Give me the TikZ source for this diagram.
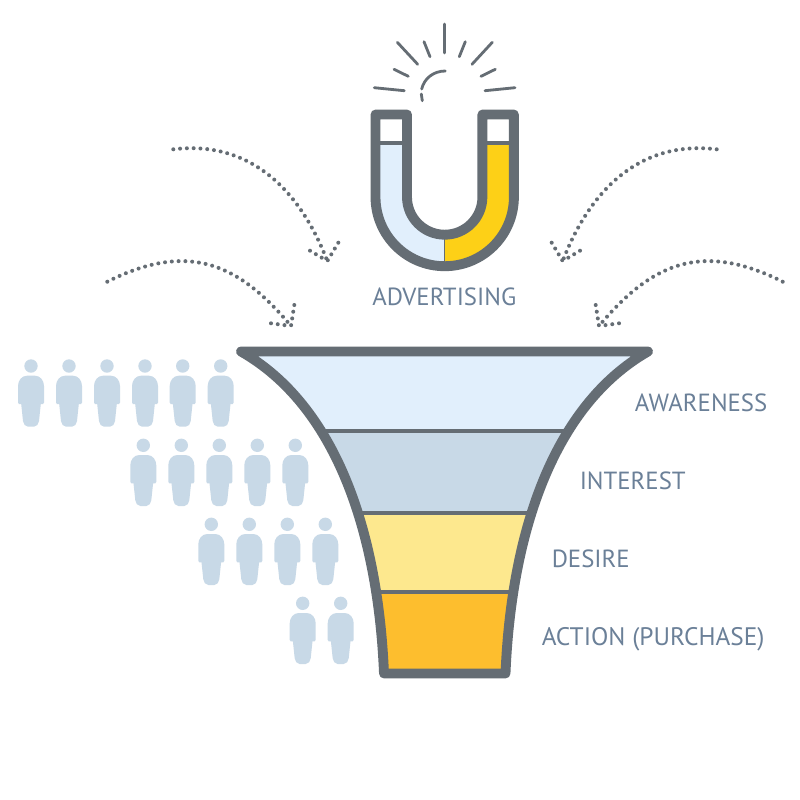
\documentclass[tikz,border=0pt]{standalone}
\usepackage{fontspec}
\setmainfont{PT Sans}
\definecolor{steel}{HTML}{656D74}
\definecolor{labelc}{HTML}{6B8098}
\definecolor{bandA}{HTML}{E1EFFC}
\definecolor{bandB}{HTML}{C8D9E7}
\definecolor{bandC}{HTML}{FDE88E}
\definecolor{bandD}{HTML}{FDBE2E}
\definecolor{magY}{HTML}{FDD017}
\tikzset{
  px/.style={x=0.75pt,y=-0.75pt},
  outline/.style={draw=steel,line width=7.4pt,line join=round,line cap=round},
  divider/.style={draw=steel,line width=2.4pt},
  ray/.style={draw=steel,line width=2.1pt,line cap=round},
  dotline/.style={draw=steel,line width=3pt,line cap=round,dash pattern=on 0pt off 5.1pt},
  funnellabel/.style={text=labelc,font=\fontsize{18.6pt}{20pt}\selectfont,inner sep=0pt,anchor=base west},
  person/.pic={
    \fill[bandB] (0,0) circle (6.7);
    \fill[bandB] (-4,9.7) to[out=180,in=90] (-13,20) -- (-13,36.5)
      to[out=-90,in=180] (-12,38) -- (-9.8,38) -- (-8,55)
      to[out=-80,in=180] (-3,60.7) -- (3,60.7) to[out=0,in=-100] (8,55)
      -- (9.8,38) -- (12,38) to[out=0,in=-90] (13,36.5) -- (13,20)
      to[out=90,in=0] (4,9.7) -- cycle;
  }
}
\begin{document}
\begin{tikzpicture}[px]
\useasboundingbox (0,0) rectangle (800,800);
\fill[white] (0,0) rectangle (800,800);
% people
\foreach \x in {31,69,107,145,182.7,220.7} \pic at (\x,366) {person};
\foreach \x in {143.3,181.3,219.3,257.3,295.3} \pic at (\x,445.3) {person};
\foreach \x in {211.3,249.3,287.3,325.3} \pic at (\x,524.3) {person};
\foreach \x in {302.7,340.7} \pic at (\x,603.3) {person};
% funnel
\def\funnelpath{(241,351.5) .. controls (335,405) and (378,530) .. (384,673.5) -- (505.5,673.5) .. controls (511.5,530) and (554.5,405) .. (648,351.5) -- cycle}
\begin{scope}
  \clip \funnelpath;
  \fill[bandA] (200,340) rectangle (700,431);
  \fill[bandB] (200,431) rectangle (700,513);
  \fill[bandC] (200,513) rectangle (700,592);
  \fill[bandD] (200,592) rectangle (700,680);
  \draw[divider] (200,431) -- (700,431);
  \draw[divider] (200,513) -- (700,513);
  \draw[divider] (200,592) -- (700,592);
\end{scope}
\draw[outline] \funnelpath;
% magnet
\def\magleft{(375.5,114.5) -- (407,114.5) -- (407,197) arc[start angle=180,end angle=90,radius=37.7] -- (444.7,266.4) arc[start angle=90,end angle=180,radius=69.2] -- cycle}
\def\magright{(513.9,114.5) -- (482.4,114.5) -- (482.4,197) arc[start angle=0,end angle=90,radius=37.7] -- (444.7,266.4) arc[start angle=90,end angle=0,radius=69.2] -- cycle}
\begin{scope}
  \clip (360,143) rectangle (444.7,280);
  \fill[bandA] \magleft;
\end{scope}
\begin{scope}
  \clip (444.7,143) rectangle (530,280);
  \fill[magY] \magright;
\end{scope}
\draw[divider,line width=2.6pt] (375.5,143) -- (407,143);
\draw[divider,line width=2.6pt] (482.4,143) -- (513.9,143);
\draw[outline] (444.7,234.7) arc[start angle=90,end angle=180,radius=37.7] -- (407,114.5) -- (375.5,114.5) -- (375.5,197) arc[start angle=180,end angle=90,radius=69.2] arc[start angle=90,end angle=0,radius=69.2] -- (513.9,114.5) -- (482.4,114.5) -- (482.4,197) arc[start angle=0,end angle=90,radius=37.7];
\draw[draw=steel,line width=0.8pt] (444.7,234.7) -- (444.7,266.4);
% spark
\draw[ray] (444.7,24) -- (444.7,53);
\draw[ray] (397.3,42.3) -- (417.7,64.3);
\draw[ray] (424,41.7) -- (430,56.7);
\draw[ray] (394,69.3) -- (408.3,76.3);
\draw[ray] (374.3,87.7) -- (404.3,90.7);
\draw[ray] (492.3,42.3) -- (472,64.3);
\draw[ray] (465.3,41.7) -- (459.3,56.7);
\draw[ray] (495.3,69.3) -- (481,76.3);
\draw[ray] (515,87.7) -- (485,90.7);
\draw[ray] (445.3,71) .. controls (433,71) and (424,79) .. (421.7,89);
\draw[ray] (421.3,94) -- (422.3,100.7);
% arrows
\coordinate (ulS) at (173.3,149.3);
\coordinate (ulT) at (327.3,261);
\coordinate (ulA) at (310,250.7);
\coordinate (ulB) at (338.3,242.7);
\coordinate (llS) at (107.3,281.7);
\coordinate (llT) at (291,326);
\coordinate (llA) at (271,323.3);
\coordinate (llB) at (294.3,305);
\draw[dotline] (ulS) .. controls (250,140) and (300,190) .. (ulT);
\draw[dotline] (ulA) -- (ulT);
\draw[dotline] (ulB) -- (ulT);
\draw[dotline] (llS) .. controls (190,240) and (240,265) .. (llT);
\draw[dotline] (llA) -- (llT);
\draw[dotline] (llB) -- (llT);
\coordinate (urS) at (716.7,149.3);
\coordinate (urT) at (562.7,261);
\coordinate (urA) at (580,250.7);
\coordinate (urB) at (551.7,242.7);
\coordinate (lrS) at (782.7,281.7);
\coordinate (lrT) at (599,326);
\coordinate (lrA) at (619,323.3);
\coordinate (lrB) at (595.7,305);
\draw[dotline] (urS) .. controls (640,140) and (590,190) .. (urT);
\draw[dotline] (urA) -- (urT);
\draw[dotline] (urB) -- (urT);
\draw[dotline] (lrS) .. controls (700,240) and (650,265) .. (lrT);
\draw[dotline] (lrA) -- (lrT);
\draw[dotline] (lrB) -- (lrT);
% labels
\node[funnellabel] (adv) at (372,305) {ADVERTISING};
\node[funnellabel] (awa) at (634.5,411) {AWARENESS};
\node[funnellabel] (int) at (579.5,489) {INTEREST};
\node[funnellabel] (des) at (551.5,567) {DESIRE};
\node[funnellabel,font=\fontsize{19pt}{20pt}\selectfont] (act) at (541.5,645) {ACTION (PURCHASE)};
\end{tikzpicture}
\end{document}
